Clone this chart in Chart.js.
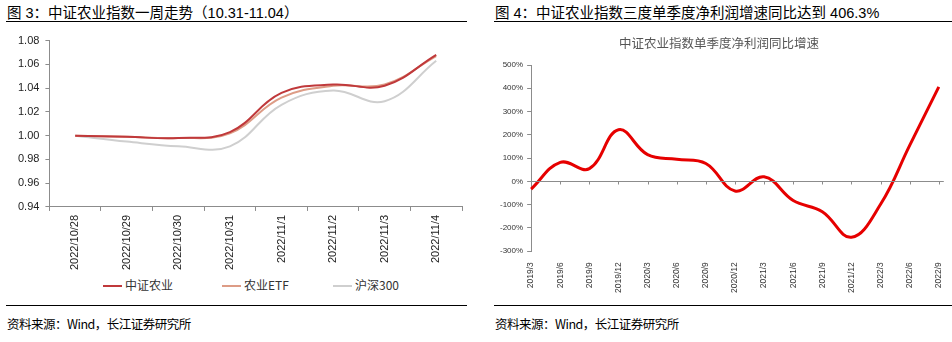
<!DOCTYPE html>
<html>
<head>
<meta charset="utf-8">
<script src="https://cdn.jsdelivr.net/npm/chart.js@4"></script>
<style>
  body { margin: 0; width: 952px; height: 342px; background: #fff; position: relative; overflow: hidden;
         font-family: "Liberation Sans", "Noto Sans CJK SC", sans-serif; }
  .title { position: absolute; top: 1px; font-size: 14.5px; color: #000; white-space: nowrap;
           font-family: "Liberation Sans", "Noto Sans CJK SC", sans-serif; }
  .rule { position: absolute; height: 0; border-top: 1.5px solid #000; }
  .src { position: absolute; top: 314px; font-size: 12.5px; color: #000; white-space: nowrap;
         font-family: "Noto Sans CJK SC", sans-serif; letter-spacing: -0.5px; }
  .box { position: absolute; }
  .leg { position: absolute; top: 276px; font-size: 12px; color: #333; white-space: nowrap;
         font-family: "Noto Sans CJK SC", sans-serif; }
  .leg i { display: inline-block; width: 19px; height: 0; border-top: 2px solid; vertical-align: middle;
           margin-right: 3px; position: relative; top: -1px; }
</style>
</head>
<body>
<div class="title" style="left:7px">图 3：中证农业指数一周走势（10.31-11.04）</div>
<div class="rule" style="left:6px; width:461px; top:21px"></div>
<div class="title" style="left:495px">图 4：中证农业指数三度单季度净利润增速同比达到 406.3%</div>
<div class="rule" style="left:494px; width:458px; top:21px"></div>

<div class="box" style="left:0; top:28px; width:470px; height:246px"><canvas id="c1"></canvas></div>
<div id="legend1"></div>
<div class="box" style="left:478px; top:28px; width:474px; height:272px"><canvas id="c2"></canvas></div>

<div class="rule" style="left:6px; width:461px; top:305px"></div>
<div class="rule" style="left:494px; width:458px; top:305px"></div>
<div class="src" style="left:7px">资料来源：Wind，长江证券研究所</div>
<div class="src" style="left:495px">资料来源：Wind，长江证券研究所</div>

<script>
// 图3 一周走势
const dates = ['2022/10/28', '2022/10/29', '2022/10/30', '2022/10/31', '2022/11/1', '2022/11/2', '2022/11/3', '2022/11/4'];
const zzny = [1.000, 0.999, 0.998, 1.003, 1.036, 1.043, 1.042, 1.068];
const nyEtf = [1.000, 0.999, 0.998, 1.002, 1.032, 1.042, 1.043, 1.067];
const hs300 = [1.000, 0.995, 0.991, 0.991, 1.026, 1.038, 1.029, 1.063];
const yTicks1 = [0.94, 0.96, 0.98, 1.00, 1.02, 1.04, 1.06, 1.08];

// 图4 单季度净利润同比增速（%）
const quarters = ['2019/3', '2019/6', '2019/9', '2019/12', '2020/3', '2020/6', '2020/9', '2020/12',
  '2021/3', '2021/6', '2021/9', '2021/12', '2022/3', '2022/6', '2022/9'];
const growth = [-33, 82, 55, 222, 115, 95, 77, -41, 20, -82, -130, -240, -98, 155, 406.3];

const axisGray = '#8c8c8c';

const chart1 = new Chart(document.getElementById('c1'), {
  type: 'line',
  data: {
    labels: dates,
    datasets: [
      { label: '中证农业', data: zzny, borderColor: '#c0393b', borderWidth: 2 },
      { label: '农业ETF', data: nyEtf, borderColor: '#dd9c86', borderWidth: 2 },
      { label: '沪深300', data: hs300, borderColor: '#cfcfcf', borderWidth: 2 }
    ]
  },
  options: {
    responsive: true,
    maintainAspectRatio: false,
    animation: false,
    elements: { point: { radius: 0 }, line: { tension: 0.4 } },
    layout: { padding: { left: 12, right: 8, top: 4, bottom: 0 } },
    plugins: {
      legend: { display: false },
      tooltip: { enabled: false }
    },
    scales: {
      x: {
        offset: true,
        grid: { display: true, drawOnChartArea: false, offset: true, tickLength: 4, color: axisGray },
        border: { color: axisGray },
        ticks: { minRotation: 90, maxRotation: 90, color: '#222', padding: 4,
                 font: { family: '"Liberation Sans"', size: 11 } }
      },
      y: {
        min: 0.94, max: 1.08,
        afterBuildTicks: s => { s.ticks = yTicks1.map(v => ({ value: v })); },
        grid: { drawOnChartArea: false, tickLength: 4, color: axisGray },
        border: { color: axisGray },
        ticks: { color: '#222', padding: 6, font: { family: '"Liberation Sans"', size: 11 },
                 callback: v => v.toFixed(2) }
      }
    }
  }
});

// 图例（按数据集生成）
const legendX = [103, 222, 333];
document.getElementById('legend1').innerHTML = chart1.data.datasets.map((ds, i) =>
  `<div class="leg" style="left:${legendX[i]}px"><i style="border-color:${ds.borderColor}"></i>${ds.label}</div>`
).join('');

// 零轴上的刻度线
const zeroTicks = {
  id: 'zeroTicks',
  afterDatasetsDraw(chart) {
    const x = chart.scales.x, y = chart.scales.y, ctx = chart.ctx;
    const y0 = Math.round(y.getPixelForValue(0)) + 0.5;
    ctx.save();
    ctx.strokeStyle = axisGray;
    ctx.lineWidth = 1;
    ctx.beginPath();
    ctx.moveTo(x.left, y0);
    ctx.lineTo(x.right + 5, y0);
    for (let i = 0; i < quarters.length; i++) {
      const px = Math.round(x.getPixelForValue(i)) + 0.5;
      ctx.moveTo(px, y0);
      ctx.lineTo(px, y0 + 3);
    }
    ctx.stroke();
    ctx.restore();
  }
};

new Chart(document.getElementById('c2'), {
  type: 'line',
  data: {
    labels: quarters,
    datasets: [
      { label: '增速', data: growth, borderColor: '#e60000', borderWidth: 3 }
    ]
  },
  options: {
    responsive: true,
    maintainAspectRatio: false,
    animation: false,
    elements: { point: { radius: 0 }, line: { tension: 0.4 } },
    layout: { padding: { left: 18, right: 10, top: 4, bottom: 4 } },
    plugins: {
      legend: { display: false },
      title: {
        display: true, text: '中证农业指数单季度净利润同比增速', color: '#555',
        font: { family: '"Noto Sans CJK SC"', size: 12.5, weight: 'normal' },
        padding: { top: 4, bottom: 14 }
      },
      tooltip: { enabled: false }
    },
    scales: {
      x: {
        offset: false,
        grid: { display: false },
        border: { display: false },
        ticks: { minRotation: 90, maxRotation: 90, autoSkip: false, color: '#333', padding: 3,
                 font: { family: '"Liberation Sans"', size: 8.5 } }
      },
      y: {
        min: -300, max: 500,
        grid: { drawOnChartArea: false, tickLength: 4, color: axisGray },
        border: { color: axisGray },
        ticks: { stepSize: 100, color: '#333', padding: 4, font: { family: '"Liberation Sans"', size: 8 },
                 callback: v => v + '%' }
      }
    }
  },
  plugins: [zeroTicks]
});
</script>
</body>
</html>
